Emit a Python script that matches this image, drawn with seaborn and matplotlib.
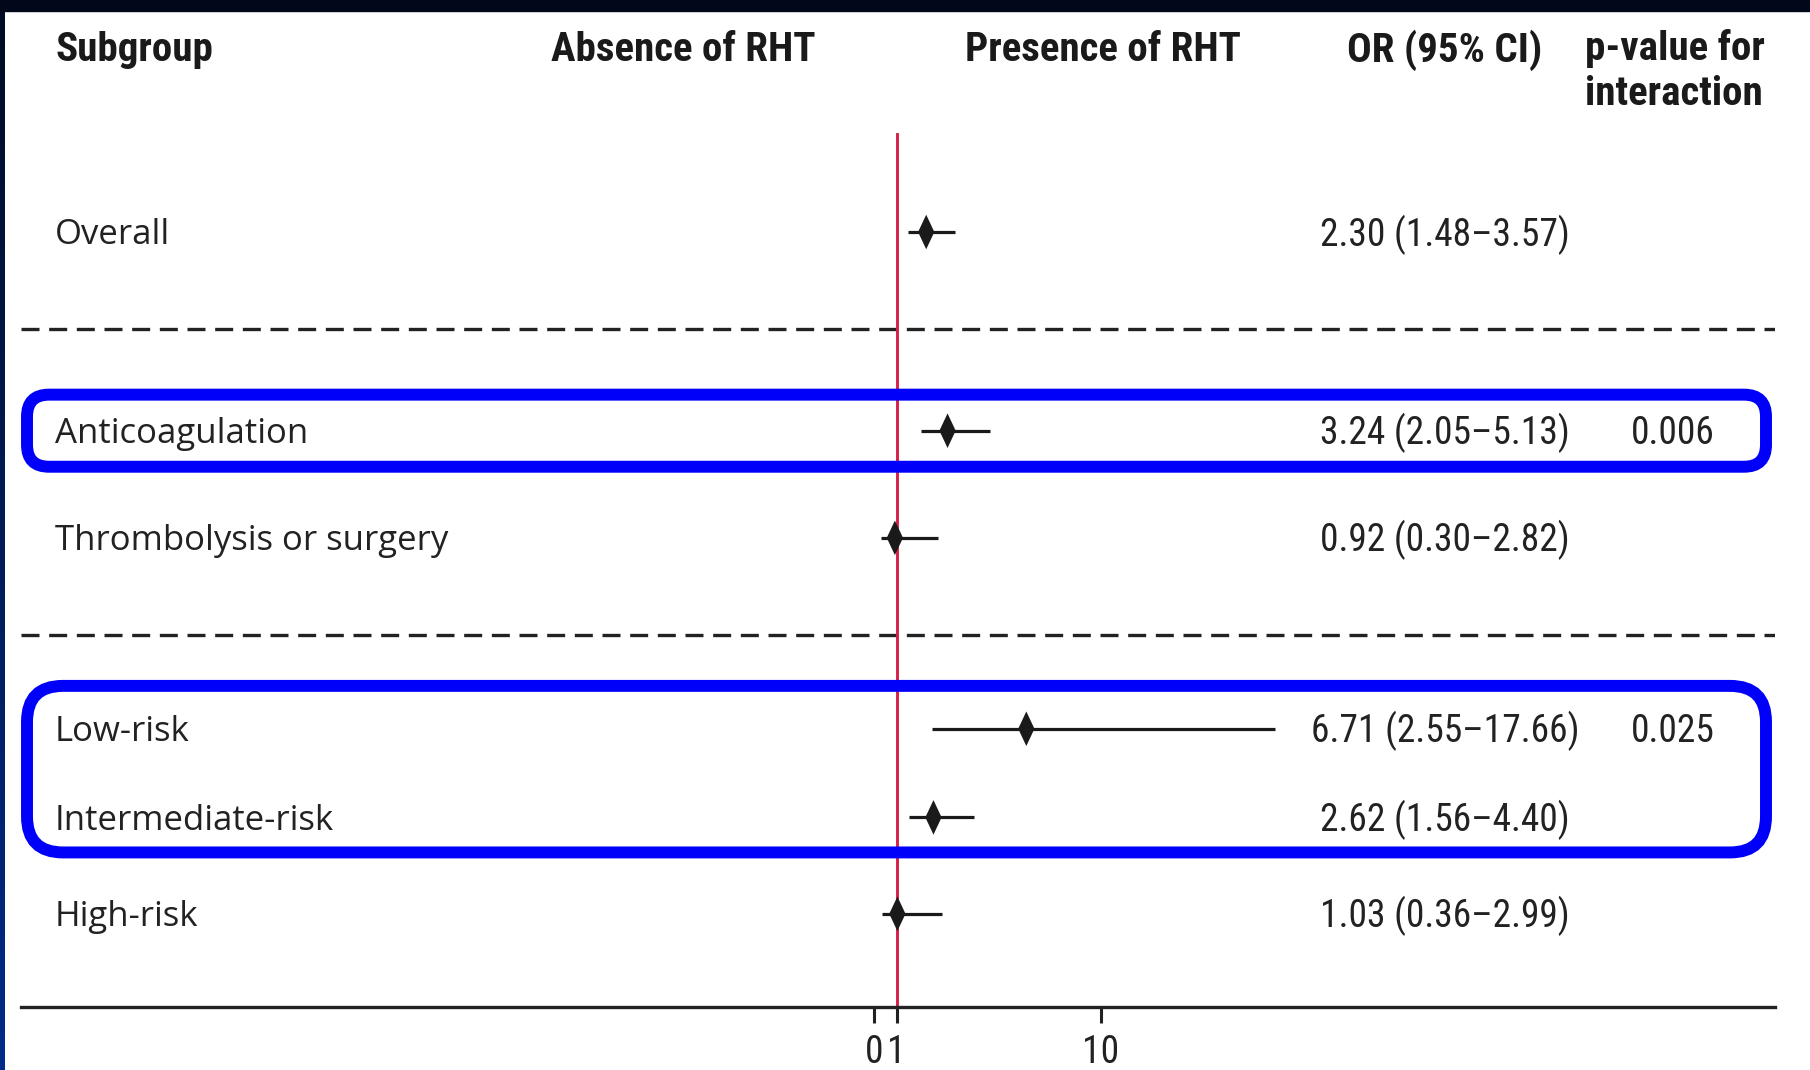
import numpy as np
import pandas as pd
import seaborn as sns
import matplotlib
matplotlib.use("Agg")
import matplotlib.pyplot as plt
from matplotlib import font_manager as fm, transforms
from matplotlib.patches import FancyBboxPatch, Rectangle
from matplotlib.path import Path
from matplotlib.colors import LinearSegmentedColormap

# ---- data -------------------------------------------------------------
subgroups = ["Overall", "Anticoagulation", "Thrombolysis or surgery",
             "Low-risk", "Intermediate-risk", "High-risk"]
odds_ratio = [2.30, 3.24, 0.92, 6.71, 2.62, 1.03]
ci_low = [1.48, 2.05, 0.30, 2.55, 1.56, 0.36]
ci_high = [3.57, 5.13, 2.82, 17.66, 4.40, 2.99]
p_interaction = ["", "0.006", "", "0.025", "", ""]
x_ticks = [0, 1, 10]
x_tick_labels = ["0", "1", "10"]
col_headers = ["Subgroup", "Absence of RHT", "Presence of RHT", "OR (95% CI)",
               "p-value for\ninteraction"]
# rows framed together (first, last index)
highlight_groups = [(1, 1), (3, 4)]

# ---- layout -----------------------------------------------------------
row_slot = [0.0, 2.04, 3.14, 5.10, 6.01, 7.0]
divider_slot = [1.0, 4.14]
frame_pad = [(0.37, 0.37), (0.44, 0.36)]   # (above, below) in row slots

W, H = 1810, 1070
sns.set_theme(style="white")

names = {f.name for f in fm.fontManager.ttflist}
if "Roboto Condensed" in names:
    COND, SZ_NUM, SZ_HDR = "Roboto Condensed", 27, 29.5
elif "Liberation Sans Narrow" in names:
    COND, SZ_NUM, SZ_HDR = "Liberation Sans Narrow", 27, 28.5
else:
    COND, SZ_NUM, SZ_HDR = "Roboto", 24.5, 26.5
ROWF = "Open Sans" if "Open Sans" in names else "DejaVu Sans"
plt.rcParams["font.family"] = [COND, "DejaVu Sans"]
INK = "#222222"

fig = plt.figure(figsize=(W / 100, H / 100), dpi=100)
fig.patch.set_facecolor("white")

ax_l, ax_r, ax_t, ax_b = 21, 1775, 133, 1007
ax = fig.add_axes([ax_l / W, (H - ax_b) / H, (ax_r - ax_l) / W, (ax_b - ax_t) / H])
ax.set_facecolor("none")

# linear OR scale: 1 unit ~ 22.7 px, zero at x=874 px
px_per = 22.7
x0 = 874
ax.set_xlim((ax_l - x0) / px_per, (ax_r - x0) / px_per)
slot_px = 97.4
ax.set_ylim((ax_b - 232) / slot_px, (ax_t - 232) / slot_px)

df = pd.DataFrame({"subgroup": subgroups, "OR": odds_ratio, "lo": ci_low,
                   "hi": ci_high, "slot": row_slot})

# reference line at OR = 1
ax.axvline(1, color="#d81f48", lw=2.1, zorder=2)

# group dividers
for s in divider_slot:
    ax.axhline(s, color=INK, lw=2.4, ls=(0, (5.4, 2.9)), zorder=1)

# confidence intervals and point estimates
ax.hlines(df["slot"], df["lo"], df["hi"], color="#1a1a1a", lw=2.3, zorder=3)
diamond = Path([(0, 1), (0.47, 0), (0, -1), (-0.47, 0), (0, 1)],
               [Path.MOVETO, Path.LINETO, Path.LINETO, Path.LINETO, Path.CLOSEPOLY])
sns.scatterplot(data=df, x="OR", y="slot", marker=diamond, s=620,
                color="#1a1a1a", edgecolor="none", zorder=4, ax=ax, legend=False)

ax.set_xlabel("")
ax.set_ylabel("")
ax.set_yticks([])
ax.set_xticks(x_ticks)
ax.set_xticklabels(x_tick_labels, family=[COND, "DejaVu Sans"], fontsize=27, color=INK)
ax.tick_params(axis="x", length=11.5, width=2.2, color=INK, pad=8, bottom=True)
for side in ["top", "left", "right"]:
    ax.spines[side].set_visible(False)
ax.spines["bottom"].set_linewidth(2.4)
ax.spines["bottom"].set_color(INK)

# table columns
blend = transforms.blended_transform_factory(fig.transFigure, ax.transData)
lab_tr = transforms.offset_copy(blend, fig=fig, y=-3.5, units="dots")
num_tr = transforms.offset_copy(blend, fig=fig, y=-2.5, units="dots")
for lab, o, lo, hi, p, s in zip(subgroups, odds_ratio, ci_low, ci_high,
                                p_interaction, row_slot):
    ax.text(55 / W, s, lab, transform=lab_tr, ha="left", va="center",
            family=[ROWF, "DejaVu Sans"], fontsize=25, color=INK)
    ax.text(1445 / W, s, f"{o:.2f} ({lo:.2f}\u2013{hi:.2f})", transform=num_tr,
            ha="center", va="center", fontsize=SZ_NUM, color=INK)
    if p:
        ax.text(1673 / W, s, p, transform=num_tr, ha="center", va="center",
                fontsize=SZ_NUM, color=INK)

# column headers
hdr = dict(fontsize=SZ_HDR, fontweight="bold", color="#1a1a1a")
fig.text(55 / W, 1 - 50 / H, col_headers[0], ha="left", va="center", **hdr)
fig.text(683 / W, 1 - 50 / H, col_headers[1], ha="center", va="center", **hdr)
fig.text(1103 / W, 1 - 50 / H, col_headers[2], ha="center", va="center", **hdr)
fig.text(1445 / W, 1 - 50 / H, col_headers[3], ha="center", va="center", **hdr)
fig.text(1585 / W, 1 - 71 / H, col_headers[4], ha="left", va="center",
         linespacing=1.24, **hdr)

# highlight frames around rows with significant interaction
for (first, last), (pad_a, pad_b) in zip(highlight_groups, frame_pad):
    y_top = ax.transData.transform((0, row_slot[first] - pad_a))[1]
    y_bot = ax.transData.transform((0, row_slot[last] + pad_b))[1]
    radius = 22 if first == last else 36
    box = FancyBboxPatch((27, y_bot), 1766 - 27, y_top - y_bot,
                         boxstyle=f"round,pad=0,rounding_size={radius}",
                         transform=transforms.IdentityTransform(),
                         fill=False, ec="#0000fa", lw=8.6, zorder=6)
    fig.add_artist(box)

# dark frame edges
fig.add_artist(Rectangle((0, 1 - 11 / H), 1, 11 / H, transform=fig.transFigure,
                         color="#00081a", zorder=10))
gax = fig.add_axes([0, 0, 5 / W, 1 - 11 / H])
grad = np.linspace(0, 1, 256).reshape(-1, 1)
gax.imshow(grad, aspect="auto",
           cmap=LinearSegmentedColormap.from_list("edge", ["#000c24", "#002b8a"]))
gax.axis("off")

fig.savefig("out.png", dpi=100, facecolor="white")
